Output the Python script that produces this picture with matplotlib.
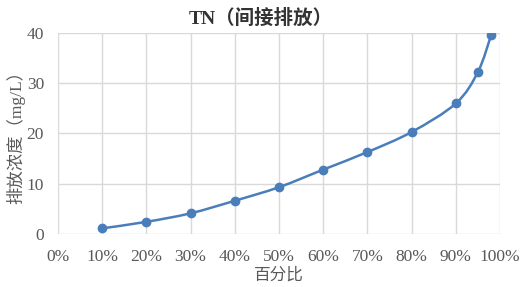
import numpy as np
import matplotlib
matplotlib.use('Agg')
import matplotlib.pyplot as plt
from matplotlib.path import Path
from matplotlib.patches import PathPatch

plt.rcParams['font.family'] = ['Liberation Serif', 'Noto Sans CJK SC']

# data
percent = [10, 20, 30, 40, 50, 60, 70, 80, 90, 95, 98]
tn_conc = [1.1, 2.4, 4.1, 6.6, 9.3, 12.8, 16.3, 20.3, 26.0, 32.3, 39.7]
x_ticks = [0, 10, 20, 30, 40, 50, 60, 70, 80, 90, 100]
y_ticks = [0, 10, 20, 30, 40]

line_color = '#4a7ebb'


def smooth_path(x, y, t=1.0 / 6):
    # Excel-like smoothed line: cardinal spline as cubic bezier segments
    pts = np.column_stack([x, y]).astype(float)
    verts = [pts[0]]
    codes = [Path.MOVETO]
    n = len(pts)
    for i in range(n - 1):
        p0 = pts[i - 1] if i > 0 else pts[i]
        p1 = pts[i]
        p2 = pts[i + 1]
        p3 = pts[i + 2] if i + 2 < n else pts[i + 1]
        c1 = p1 + (p2 - p0) * t
        c2 = p2 - (p3 - p1) * t
        verts += [c1, c2, p2]
        codes += [Path.CURVE4] * 3
    return Path(verts, codes)


fig = plt.figure(figsize=(5.21, 2.87), dpi=100)
ax = fig.add_axes([0.111, 0.185, 0.849, 0.70])

ax.add_patch(PathPatch(smooth_path(percent, tn_conc), fill=False,
                       edgecolor=line_color, lw=1.8, zorder=3))
ax.plot(percent, tn_conc, 'o', color=line_color, ms=6, zorder=4)

ax.set_xlim(0, 100)
ax.set_ylim(0, 40)
ax.set_xticks(x_ticks)
ax.set_xticklabels(['%d%%' % v for v in x_ticks])
ax.set_yticks(y_ticks)
ax.grid(color='#d9d9d9', lw=1)
ax.set_axisbelow(True)
for s in ax.spines.values():
    s.set_visible(False)
ax.tick_params(length=0, labelsize=12.5, colors='#595959')
ax.tick_params(axis='x', pad=11)
ax.tick_params(axis='y', pad=10)

fig.suptitle('TN（间接排放）', x=0.5, y=0.97, fontsize=14, fontweight='bold', color='#333333')
ax.set_xlabel('百分比', fontsize=12, color='#595959', labelpad=2)
ax.set_ylabel('排放浓度（mg/L）', fontsize=12.5, color='#595959', labelpad=1)

fig.savefig('out.png', dpi=100)
